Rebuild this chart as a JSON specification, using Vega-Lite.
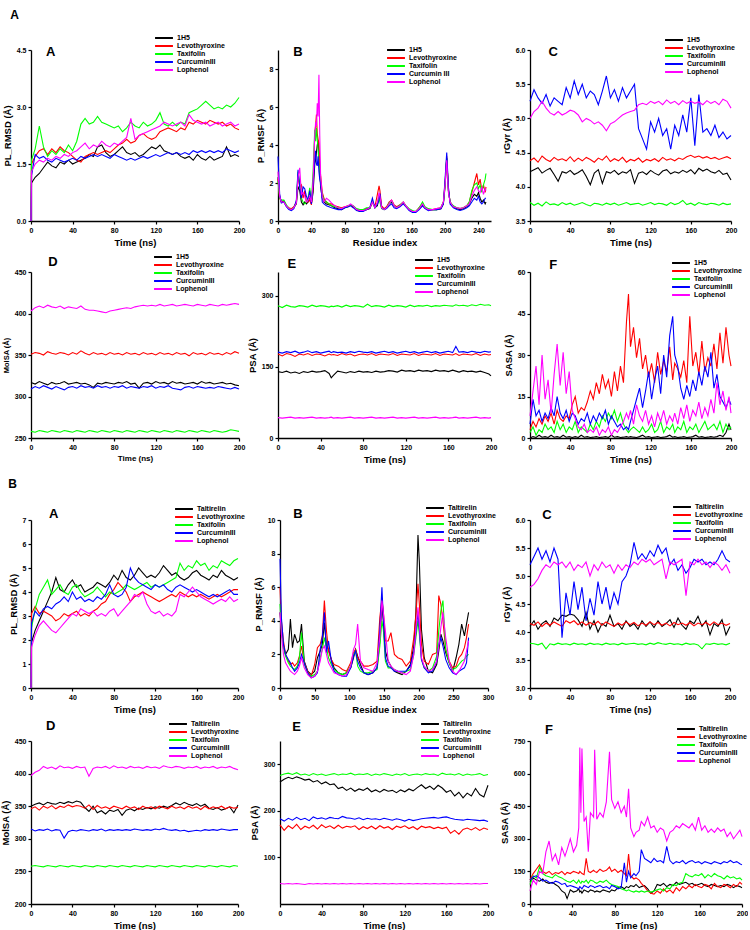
{
"$schema":"https://vega.github.io/schema/vega-lite/v6.json",
"background":"white",
"padding":{"left":0,"top":9,"right":0,"bottom":0},
"config":{
 "view":{"stroke":null},
 "font":"Liberation Sans",
 "axis":{"grid":false,"domainColor":"#000","domainWidth":1.3,"tickColor":"#000","tickSize":3,"tickWidth":1.2,"tickCount":20,"labelFontSize":7,"labelFontWeight":"bold","labelColor":"#000","titleFontSize":9.5,"titleFontWeight":"bold","titleColor":"#000","labelPadding":2,"titlePadding":4,"labelFlush":false,"labelOverlap":false},
 "legend":{"symbolType":"stroke","symbolStrokeWidth":2,"symbolSize":320,"labelFontSize":7,"labelFontWeight":"bold","labelColor":"#000","clipHeight":8,"rowPadding":0,"labelOffset":3,"padding":0},
 "title":{"anchor":"start","fontSize":12,"fontWeight":"bold","color":"#000","offset":12,"dx":8},
 "text":{"align":"center","baseline":"middle"}
},
"datasets":{
"ta":[
{"x":0,"k":0,"l":0,"t":0,"c":0,"p":0},
{"x":0.5,"k":1.0,"l":1.5,"t":1.6,"c":1.2,"p":1.3},
{"x":4,"k":1.15,"l":1.7,"t":1.9,"c":1.75,"p":1.5},
{"x":8,"k":1.25,"l":1.85,"t":2.5,"c":1.65,"p":1.6},
{"x":12,"k":1.4,"l":1.9,"t":1.95,"c":1.7,"p":1.55},
{"x":16,"k":1.55,"l":1.75,"t":1.7,"c":1.6,"p":1.65},
{"x":20,"k":1.45,"l":1.9,"t":1.85,"c":1.55,"p":1.6},
{"x":24,"k":1.4,"l":1.8,"t":1.75,"c":1.65,"p":1.7},
{"x":28,"k":1.55,"l":1.95,"t":1.9,"c":1.6,"p":1.65},
{"x":32,"k":1.5,"l":1.85,"t":1.8,"c":1.55,"p":1.75},
{"x":36,"k":1.6,"l":1.8,"t":2.0,"c":1.6,"p":1.7},
{"x":40,"k":1.5,"l":1.7,"t":1.85,"c":1.65,"p":1.8},
{"x":44,"k":1.55,"l":1.6,"t":2.1,"c":1.6,"p":1.85},
{"x":48,"k":1.6,"l":1.55,"t":2.55,"c":1.7,"p":1.95},
{"x":52,"k":1.65,"l":1.7,"t":2.7,"c":1.65,"p":2.05},
{"x":56,"k":1.75,"l":1.75,"t":2.55,"c":1.7,"p":1.9},
{"x":60,"k":1.7,"l":1.8,"t":2.6,"c":1.75,"p":2.0},
{"x":64,"k":1.95,"l":1.75,"t":2.75,"c":1.7,"p":1.95},
{"x":68,"k":2.0,"l":1.8,"t":2.6,"c":1.75,"p":2.1},
{"x":72,"k":1.8,"l":1.85,"t":2.55,"c":1.7,"p":2.0},
{"x":76,"k":1.7,"l":1.8,"t":2.5,"c":1.65,"p":1.95},
{"x":80,"k":1.75,"l":1.9,"t":2.45,"c":1.75,"p":2.05},
{"x":84,"k":1.85,"l":2.0,"t":2.5,"c":1.7,"p":2.0},
{"x":88,"k":1.95,"l":2.05,"t":2.35,"c":1.65,"p":2.1},
{"x":92,"k":1.8,"l":2.15,"t":2.45,"c":1.6,"p":2.2},
{"x":96,"k":1.75,"l":2.05,"t":2.6,"c":1.65,"p":2.7},
{"x":100,"k":1.8,"l":2.1,"t":2.5,"c":1.6,"p":2.15},
{"x":104,"k":1.7,"l":2.25,"t":2.45,"c":1.65,"p":2.25},
{"x":108,"k":1.75,"l":2.3,"t":2.6,"c":1.7,"p":2.3},
{"x":112,"k":1.85,"l":2.2,"t":2.5,"c":1.65,"p":2.35},
{"x":116,"k":1.95,"l":2.15,"t":2.55,"c":1.7,"p":2.4},
{"x":120,"k":1.9,"l":2.2,"t":2.65,"c":1.75,"p":2.45},
{"x":124,"k":2.0,"l":2.35,"t":2.85,"c":1.7,"p":2.5},
{"x":128,"k":1.85,"l":2.4,"t":2.55,"c":1.75,"p":2.6},
{"x":132,"k":1.8,"l":2.45,"t":2.5,"c":1.8,"p":2.55},
{"x":136,"k":1.75,"l":2.4,"t":2.6,"c":1.75,"p":2.5},
{"x":140,"k":1.8,"l":2.35,"t":2.5,"c":1.8,"p":2.55},
{"x":144,"k":1.7,"l":2.45,"t":2.6,"c":1.75,"p":2.6},
{"x":148,"k":1.65,"l":2.4,"t":2.55,"c":1.8,"p":2.5},
{"x":152,"k":1.7,"l":2.6,"t":2.85,"c":1.75,"p":2.8},
{"x":156,"k":1.6,"l":2.55,"t":2.9,"c":1.85,"p":2.65},
{"x":160,"k":1.75,"l":2.65,"t":2.95,"c":1.8,"p":2.6},
{"x":164,"k":1.65,"l":2.6,"t":3.05,"c":1.85,"p":2.55},
{"x":168,"k":1.6,"l":2.55,"t":3.15,"c":1.8,"p":2.6},
{"x":172,"k":1.7,"l":2.65,"t":3.05,"c":1.85,"p":2.5},
{"x":176,"k":1.6,"l":2.6,"t":2.95,"c":1.8,"p":2.55},
{"x":180,"k":1.65,"l":2.55,"t":3.0,"c":1.85,"p":2.6},
{"x":184,"k":1.7,"l":2.6,"t":2.95,"c":1.8,"p":2.5},
{"x":188,"k":1.95,"l":2.5,"t":3.05,"c":1.9,"p":2.55},
{"x":192,"k":1.7,"l":2.55,"t":3.0,"c":1.85,"p":2.6},
{"x":196,"k":1.75,"l":2.45,"t":3.1,"c":1.8,"p":2.5},
{"x":200,"k":1.7,"l":2.4,"t":3.25,"c":1.85,"p":2.55}
],
"tb":[
{"x":0,"k":2.3,"l":2.2,"t":2.1,"c":3.4,"p":2.6},
{"x":2,"k":1.3,"l":1.2,"t":1.2,"c":1.4,"p":1.3},
{"x":4,"k":1.0,"l":1.0,"t":1.1,"c":0.95,"p":1.0},
{"x":7,"k":1.05,"l":1.0,"t":1.1,"c":1.0,"p":1.0},
{"x":10,"k":0.8,"l":0.8,"t":0.85,"c":0.75,"p":0.8},
{"x":13,"k":0.65,"l":0.7,"t":0.65,"c":0.6,"p":0.65},
{"x":16,"k":0.6,"l":0.65,"t":0.6,"c":0.55,"p":0.6},
{"x":19,"k":0.7,"l":0.75,"t":0.7,"c":0.65,"p":0.7},
{"x":22,"k":0.9,"l":1.0,"t":1.0,"c":1.1,"p":0.95},
{"x":24,"k":1.8,"l":2.4,"t":2.6,"c":2.7,"p":2.3},
{"x":26,"k":1.6,"l":1.8,"t":2.0,"c":1.8,"p":2.8},
{"x":28,"k":1.0,"l":1.9,"t":1.2,"c":1.2,"p":1.4},
{"x":30,"k":0.85,"l":1.2,"t":1.0,"c":1.8,"p":1.5},
{"x":32,"k":1.0,"l":1.6,"t":0.9,"c":1.7,"p":1.3},
{"x":34,"k":0.9,"l":1.0,"t":1.0,"c":1.3,"p":1.0},
{"x":36,"k":1.0,"l":1.0,"t":1.2,"c":1.1,"p":1.1},
{"x":38,"k":1.3,"l":1.1,"t":1.75,"c":1.6,"p":1.3},
{"x":40,"k":0.9,"l":0.85,"t":1.0,"c":0.9,"p":1.0},
{"x":42,"k":1.5,"l":1.8,"t":2.6,"c":1.9,"p":2.1},
{"x":44,"k":3.0,"l":4.6,"t":4.8,"c":3.3,"p":4.5},
{"x":45,"k":3.2,"l":5.0,"t":4.2,"c":3.7,"p":5.2},
{"x":46,"k":3.6,"l":5.6,"t":4.9,"c":3.0,"p":5.0},
{"x":47,"k":4.0,"l":4.6,"t":4.3,"c":2.9,"p":6.2},
{"x":48,"k":4.2,"l":4.3,"t":3.8,"c":3.4,"p":5.5},
{"x":49,"k":3.5,"l":4.1,"t":3.0,"c":2.6,"p":7.7},
{"x":50,"k":2.6,"l":3.0,"t":2.7,"c":2.2,"p":4.5},
{"x":51,"k":1.8,"l":2.4,"t":2.0,"c":2.0,"p":2.4},
{"x":53,"k":1.2,"l":1.5,"t":1.4,"c":1.0,"p":1.3},
{"x":55,"k":1.0,"l":1.2,"t":1.1,"c":0.9,"p":1.0},
{"x":58,"k":0.9,"l":1.0,"t":1.0,"c":0.8,"p":1.2},
{"x":61,"k":0.85,"l":0.9,"t":0.9,"c":0.75,"p":1.1},
{"x":64,"k":0.8,"l":0.9,"t":0.8,"c":0.7,"p":0.95},
{"x":68,"k":0.7,"l":0.8,"t":0.75,"c":0.65,"p":0.8},
{"x":72,"k":0.65,"l":0.75,"t":0.7,"c":0.6,"p":0.7},
{"x":76,"k":0.6,"l":0.7,"t":0.65,"c":0.6,"p":0.65},
{"x":80,"k":0.7,"l":0.75,"t":0.7,"c":0.7,"p":0.75},
{"x":84,"k":0.75,"l":0.8,"t":0.8,"c":0.75,"p":0.8},
{"x":87,"k":0.85,"l":0.85,"t":0.85,"c":0.8,"p":0.9},
{"x":90,"k":0.75,"l":0.75,"t":0.8,"c":0.7,"p":0.8},
{"x":94,"k":0.6,"l":0.6,"t":0.65,"c":0.55,"p":0.6},
{"x":98,"k":0.5,"l":0.55,"t":0.6,"c":0.5,"p":0.55},
{"x":102,"k":0.55,"l":0.55,"t":0.6,"c":0.5,"p":0.55},
{"x":106,"k":0.6,"l":0.65,"t":0.7,"c":0.6,"p":0.6},
{"x":110,"k":0.65,"l":0.7,"t":0.7,"c":0.7,"p":0.7},
{"x":113,"k":1.0,"l":1.0,"t":1.05,"c":1.2,"p":1.0},
{"x":116,"k":0.7,"l":0.75,"t":0.7,"c":0.7,"p":0.7},
{"x":119,"k":0.8,"l":1.4,"t":0.9,"c":0.9,"p":1.0},
{"x":121,"k":1.3,"l":1.85,"t":1.2,"c":1.1,"p":1.5},
{"x":122,"k":1.2,"l":1.6,"t":1.0,"c":1.45,"p":1.3},
{"x":124,"k":0.7,"l":0.8,"t":0.65,"c":0.7,"p":0.7},
{"x":127,"k":0.6,"l":0.65,"t":0.6,"c":0.6,"p":0.6},
{"x":130,"k":0.7,"l":0.75,"t":0.7,"c":0.65,"p":0.7},
{"x":133,"k":0.9,"l":1.0,"t":0.95,"c":0.8,"p":0.9},
{"x":136,"k":1.0,"l":1.1,"t":1.05,"c":0.9,"p":1.1},
{"x":139,"k":0.8,"l":0.85,"t":0.8,"c":0.7,"p":0.8},
{"x":142,"k":0.7,"l":0.75,"t":0.7,"c":0.65,"p":0.7},
{"x":146,"k":0.8,"l":0.85,"t":0.85,"c":0.75,"p":0.8},
{"x":150,"k":0.95,"l":1.0,"t":1.0,"c":0.9,"p":1.0},
{"x":153,"k":0.8,"l":0.8,"t":0.8,"c":0.75,"p":0.8},
{"x":157,"k":0.6,"l":0.6,"t":0.65,"c":0.55,"p":0.6},
{"x":161,"k":0.5,"l":0.5,"t":0.55,"c":0.45,"p":0.5},
{"x":165,"k":0.5,"l":0.5,"t":0.5,"c":0.45,"p":0.5},
{"x":169,"k":0.65,"l":0.7,"t":0.7,"c":0.6,"p":0.65},
{"x":173,"k":0.85,"l":0.9,"t":1.0,"c":0.8,"p":0.9},
{"x":176,"k":0.7,"l":0.7,"t":0.75,"c":0.65,"p":0.7},
{"x":180,"k":0.6,"l":0.6,"t":0.65,"c":0.55,"p":0.6},
{"x":185,"k":0.6,"l":0.6,"t":0.6,"c":0.6,"p":0.6},
{"x":190,"k":0.6,"l":0.65,"t":0.6,"c":0.6,"p":0.65},
{"x":195,"k":0.65,"l":0.7,"t":0.7,"c":0.65,"p":0.7},
{"x":198,"k":0.9,"l":1.0,"t":1.0,"c":0.9,"p":1.0},
{"x":200,"k":1.8,"l":2.0,"t":1.9,"c":2.2,"p":1.9},
{"x":202,"k":3.3,"l":3.4,"t":3.3,"c":3.6,"p":3.2},
{"x":204,"k":1.6,"l":1.7,"t":1.6,"c":1.8,"p":1.5},
{"x":206,"k":1.0,"l":1.0,"t":1.0,"c":0.9,"p":1.0},
{"x":210,"k":0.75,"l":0.75,"t":0.8,"c":0.7,"p":0.75},
{"x":214,"k":0.65,"l":0.7,"t":0.7,"c":0.6,"p":0.7},
{"x":218,"k":0.6,"l":0.65,"t":0.65,"c":0.55,"p":0.65},
{"x":222,"k":0.65,"l":0.7,"t":0.7,"c":0.6,"p":0.7},
{"x":226,"k":0.75,"l":0.8,"t":0.8,"c":0.7,"p":0.8},
{"x":229,"k":0.9,"l":1.0,"t":1.0,"c":0.8,"p":0.9},
{"x":232,"k":1.2,"l":1.5,"t":1.6,"c":1.0,"p":1.3},
{"x":235,"k":1.4,"l":2.0,"t":1.9,"c":1.2,"p":1.6},
{"x":238,"k":1.3,"l":2.5,"t":2.0,"c":1.1,"p":1.8},
{"x":240,"k":1.5,"l":1.9,"t":1.7,"c":1.3,"p":1.6},
{"x":242,"k":1.2,"l":2.2,"t":1.9,"c":1.0,"p":1.5},
{"x":244,"k":1.0,"l":1.6,"t":1.5,"c":0.9,"p":1.8},
{"x":246,"k":1.1,"l":1.9,"t":1.9,"c":1.0,"p":1.4},
{"x":248,"k":0.9,"l":1.5,"t":2.2,"c":1.2,"p":1.7},
{"x":249,"k":1.0,"l":1.8,"t":2.5,"c":1.2,"p":1.6}
],
"tc":[
{"x":0,"k":4.22,"l":4.38,"t":3.77,"c":5.25,"p":5.0},
{"x":4,"k":4.25,"l":4.42,"t":3.73,"c":5.42,"p":5.1},
{"x":8,"k":4.28,"l":4.36,"t":3.76,"c":5.3,"p":5.15},
{"x":12,"k":4.2,"l":4.45,"t":3.72,"c":5.22,"p":5.25},
{"x":16,"k":4.24,"l":4.4,"t":3.78,"c":5.35,"p":5.15},
{"x":20,"k":4.27,"l":4.37,"t":3.74,"c":5.18,"p":5.08},
{"x":24,"k":4.18,"l":4.43,"t":3.75,"c":5.3,"p":5.05},
{"x":28,"k":4.08,"l":4.39,"t":3.73,"c":5.25,"p":5.1},
{"x":32,"k":4.22,"l":4.41,"t":3.77,"c":5.2,"p":5.05},
{"x":36,"k":4.2,"l":4.38,"t":3.74,"c":5.45,"p":5.08},
{"x":40,"k":4.24,"l":4.44,"t":3.76,"c":5.3,"p":5.12},
{"x":44,"k":4.18,"l":4.37,"t":3.73,"c":5.55,"p":5.1},
{"x":48,"k":4.21,"l":4.42,"t":3.75,"c":5.35,"p":5.05},
{"x":52,"k":4.25,"l":4.38,"t":3.77,"c":5.5,"p":4.95},
{"x":56,"k":4.15,"l":4.43,"t":3.74,"c":5.3,"p":5.0},
{"x":60,"k":4.03,"l":4.4,"t":3.72,"c":5.4,"p":4.97},
{"x":64,"k":4.2,"l":4.36,"t":3.76,"c":5.35,"p":4.92},
{"x":68,"k":4.25,"l":4.42,"t":3.75,"c":5.2,"p":4.95},
{"x":72,"k":4.05,"l":4.39,"t":3.73,"c":5.4,"p":4.9},
{"x":76,"k":4.22,"l":4.45,"t":3.76,"c":5.62,"p":4.82},
{"x":80,"k":4.2,"l":4.37,"t":3.74,"c":5.3,"p":4.92},
{"x":84,"k":4.24,"l":4.41,"t":3.76,"c":5.42,"p":4.95},
{"x":88,"k":4.18,"l":4.38,"t":3.73,"c":5.25,"p":5.0},
{"x":92,"k":4.22,"l":4.43,"t":3.75,"c":5.45,"p":5.05},
{"x":96,"k":4.2,"l":4.36,"t":3.77,"c":5.3,"p":5.08},
{"x":100,"k":4.25,"l":4.4,"t":3.74,"c":5.4,"p":5.1},
{"x":104,"k":4.05,"l":4.38,"t":3.75,"c":5.5,"p":5.12},
{"x":108,"k":4.2,"l":4.42,"t":3.76,"c":4.85,"p":5.2},
{"x":112,"k":4.22,"l":4.36,"t":3.73,"c":4.7,"p":5.22},
{"x":116,"k":4.18,"l":4.4,"t":3.75,"c":4.55,"p":5.2},
{"x":120,"k":4.24,"l":4.38,"t":3.77,"c":4.95,"p":5.25},
{"x":124,"k":4.2,"l":4.41,"t":3.74,"c":4.8,"p":5.22},
{"x":128,"k":4.17,"l":4.37,"t":3.76,"c":5.0,"p":5.25},
{"x":132,"k":4.23,"l":4.43,"t":3.75,"c":4.75,"p":5.2},
{"x":136,"k":4.25,"l":4.39,"t":3.73,"c":4.85,"p":5.27},
{"x":140,"k":4.19,"l":4.41,"t":3.77,"c":4.55,"p":5.22},
{"x":144,"k":4.22,"l":4.38,"t":3.74,"c":4.9,"p":5.25},
{"x":148,"k":4.2,"l":4.42,"t":3.76,"c":4.75,"p":5.2},
{"x":152,"k":4.24,"l":4.4,"t":3.8,"c":5.05,"p":5.26},
{"x":156,"k":4.21,"l":4.44,"t":3.74,"c":4.8,"p":5.22},
{"x":160,"k":4.25,"l":4.46,"t":3.76,"c":5.3,"p":5.25},
{"x":164,"k":4.19,"l":4.43,"t":3.73,"c":4.6,"p":5.22},
{"x":168,"k":4.27,"l":4.45,"t":3.77,"c":5.35,"p":5.24},
{"x":172,"k":4.23,"l":4.42,"t":3.75,"c":4.8,"p":5.2},
{"x":176,"k":4.26,"l":4.44,"t":3.74,"c":4.85,"p":5.26},
{"x":180,"k":4.22,"l":4.41,"t":3.76,"c":4.75,"p":5.22},
{"x":184,"k":4.2,"l":4.43,"t":3.75,"c":4.9,"p":5.25},
{"x":188,"k":4.24,"l":4.4,"t":3.73,"c":4.72,"p":5.2},
{"x":192,"k":4.18,"l":4.42,"t":3.76,"c":4.8,"p":5.28},
{"x":196,"k":4.2,"l":4.44,"t":3.74,"c":4.7,"p":5.25},
{"x":200,"k":4.1,"l":4.41,"t":3.75,"c":4.75,"p":5.15}
],
"td":[
{"x":0,"k":317,"l":351,"t":258,"c":309,"p":403},
{"x":4,"k":315,"l":353,"t":257,"c":312,"p":407},
{"x":8,"k":318,"l":352,"t":259,"c":310,"p":409},
{"x":12,"k":316,"l":350,"t":258,"c":313,"p":407},
{"x":16,"k":314,"l":354,"t":257,"c":311,"p":410},
{"x":20,"k":317,"l":352,"t":259,"c":309,"p":408},
{"x":24,"k":315,"l":351,"t":258,"c":312,"p":407},
{"x":28,"k":316,"l":353,"t":257,"c":310,"p":409},
{"x":32,"k":318,"l":352,"t":259,"c":308,"p":406},
{"x":36,"k":315,"l":350,"t":258,"c":311,"p":408},
{"x":40,"k":316,"l":353,"t":257,"c":312,"p":407},
{"x":44,"k":317,"l":351,"t":259,"c":310,"p":406},
{"x":48,"k":315,"l":355,"t":258,"c":313,"p":409},
{"x":52,"k":316,"l":352,"t":257,"c":311,"p":405},
{"x":56,"k":314,"l":350,"t":259,"c":312,"p":404},
{"x":60,"k":311,"l":353,"t":258,"c":310,"p":404},
{"x":64,"k":316,"l":351,"t":257,"c":313,"p":403},
{"x":68,"k":315,"l":352,"t":259,"c":311,"p":402},
{"x":72,"k":317,"l":350,"t":258,"c":312,"p":401},
{"x":76,"k":316,"l":353,"t":257,"c":310,"p":403},
{"x":80,"k":315,"l":351,"t":259,"c":312,"p":404},
{"x":84,"k":317,"l":352,"t":258,"c":311,"p":405},
{"x":88,"k":316,"l":350,"t":257,"c":313,"p":406},
{"x":92,"k":318,"l":353,"t":259,"c":310,"p":407},
{"x":96,"k":315,"l":351,"t":258,"c":312,"p":406},
{"x":100,"k":316,"l":352,"t":257,"c":311,"p":408},
{"x":104,"k":310,"l":350,"t":259,"c":310,"p":409},
{"x":108,"k":316,"l":353,"t":258,"c":312,"p":410},
{"x":112,"k":317,"l":351,"t":257,"c":311,"p":409},
{"x":116,"k":315,"l":352,"t":259,"c":313,"p":410},
{"x":120,"k":318,"l":350,"t":258,"c":310,"p":409},
{"x":124,"k":316,"l":353,"t":257,"c":312,"p":411},
{"x":128,"k":317,"l":351,"t":259,"c":311,"p":409},
{"x":132,"k":315,"l":352,"t":258,"c":313,"p":410},
{"x":136,"k":318,"l":350,"t":257,"c":310,"p":411},
{"x":140,"k":316,"l":353,"t":259,"c":309,"p":409},
{"x":144,"k":317,"l":351,"t":258,"c":308,"p":410},
{"x":148,"k":315,"l":352,"t":257,"c":311,"p":411},
{"x":152,"k":316,"l":349,"t":259,"c":312,"p":410},
{"x":156,"k":317,"l":353,"t":258,"c":310,"p":409},
{"x":160,"k":315,"l":351,"t":257,"c":312,"p":411},
{"x":164,"k":318,"l":352,"t":259,"c":311,"p":410},
{"x":168,"k":316,"l":350,"t":258,"c":310,"p":409},
{"x":172,"k":317,"l":353,"t":257,"c":311,"p":411},
{"x":176,"k":315,"l":351,"t":259,"c":310,"p":410},
{"x":180,"k":316,"l":352,"t":258,"c":312,"p":409},
{"x":184,"k":317,"l":350,"t":257,"c":311,"p":411},
{"x":188,"k":315,"l":353,"t":258,"c":310,"p":410},
{"x":192,"k":316,"l":351,"t":260,"c":309,"p":411},
{"x":196,"k":314,"l":354,"t":259,"c":311,"p":412},
{"x":200,"k":313,"l":352,"t":258,"c":309,"p":411}
],
"te":[
{"x":0,"k":140,"l":177,"t":279,"c":181,"p":43},
{"x":4,"k":138,"l":173,"t":275,"c":179,"p":42},
{"x":8,"k":141,"l":178,"t":280,"c":182,"p":43},
{"x":12,"k":137,"l":176,"t":277,"c":180,"p":44},
{"x":16,"k":139,"l":172,"t":276,"c":183,"p":42},
{"x":20,"k":136,"l":177,"t":279,"c":179,"p":43},
{"x":24,"k":140,"l":175,"t":278,"c":181,"p":42},
{"x":28,"k":138,"l":178,"t":276,"c":184,"p":43},
{"x":32,"k":141,"l":174,"t":280,"c":180,"p":44},
{"x":36,"k":139,"l":177,"t":277,"c":182,"p":42},
{"x":40,"k":140,"l":176,"t":279,"c":179,"p":43},
{"x":44,"k":142,"l":173,"t":278,"c":181,"p":42},
{"x":48,"k":136,"l":177,"t":276,"c":183,"p":43},
{"x":50,"k":127,"l":175,"t":278,"c":180,"p":44},
{"x":52,"k":132,"l":176,"t":277,"c":182,"p":42},
{"x":56,"k":141,"l":174,"t":279,"c":180,"p":43},
{"x":60,"k":139,"l":178,"t":276,"c":181,"p":42},
{"x":64,"k":137,"l":175,"t":280,"c":179,"p":43},
{"x":68,"k":140,"l":177,"t":277,"c":182,"p":44},
{"x":72,"k":138,"l":173,"t":279,"c":180,"p":42},
{"x":76,"k":141,"l":176,"t":278,"c":183,"p":43},
{"x":80,"k":139,"l":177,"t":276,"c":181,"p":42},
{"x":84,"k":140,"l":175,"t":282,"c":180,"p":43},
{"x":88,"k":138,"l":178,"t":277,"c":182,"p":44},
{"x":92,"k":141,"l":174,"t":279,"c":179,"p":42},
{"x":96,"k":139,"l":177,"t":278,"c":181,"p":43},
{"x":100,"k":140,"l":176,"t":276,"c":183,"p":42},
{"x":104,"k":142,"l":175,"t":280,"c":180,"p":43},
{"x":108,"k":141,"l":178,"t":277,"c":182,"p":44},
{"x":112,"k":139,"l":174,"t":279,"c":179,"p":42},
{"x":116,"k":143,"l":177,"t":278,"c":181,"p":43},
{"x":120,"k":141,"l":176,"t":276,"c":183,"p":42},
{"x":124,"k":142,"l":175,"t":280,"c":180,"p":43},
{"x":128,"k":140,"l":178,"t":277,"c":182,"p":44},
{"x":132,"k":143,"l":174,"t":279,"c":179,"p":42},
{"x":136,"k":141,"l":177,"t":278,"c":181,"p":43},
{"x":140,"k":142,"l":176,"t":280,"c":183,"p":42},
{"x":144,"k":140,"l":175,"t":277,"c":180,"p":43},
{"x":148,"k":143,"l":178,"t":279,"c":182,"p":44},
{"x":152,"k":141,"l":174,"t":278,"c":179,"p":42},
{"x":156,"k":142,"l":177,"t":280,"c":181,"p":43},
{"x":160,"k":140,"l":176,"t":279,"c":183,"p":42},
{"x":164,"k":143,"l":175,"t":278,"c":180,"p":43},
{"x":167,"k":141,"l":178,"t":281,"c":193,"p":44},
{"x":170,"k":139,"l":174,"t":279,"c":181,"p":42},
{"x":174,"k":142,"l":177,"t":280,"c":182,"p":43},
{"x":178,"k":140,"l":176,"t":278,"c":180,"p":42},
{"x":182,"k":141,"l":175,"t":281,"c":183,"p":43},
{"x":186,"k":139,"l":178,"t":279,"c":181,"p":44},
{"x":190,"k":141,"l":174,"t":282,"c":180,"p":42},
{"x":194,"k":138,"l":177,"t":280,"c":183,"p":43},
{"x":198,"k":135,"l":175,"t":281,"c":181,"p":42},
{"x":200,"k":131,"l":176,"t":279,"c":182,"p":43}
],
"tf":[
{"x":0,"k":0,"l":3,"t":2,"c":5,"p":8},
{"x":3,"k":0.5,"l":6,"t":4,"c":14,"p":17},
{"x":6,"k":0.2,"l":4,"t":1,"c":8,"p":26},
{"x":9,"k":1,"l":7,"t":3,"c":10,"p":12},
{"x":12,"k":0.3,"l":5,"t":2,"c":6,"p":30},
{"x":15,"k":0.5,"l":8,"t":5,"c":9,"p":14},
{"x":18,"k":0.2,"l":6,"t":3,"c":7,"p":21},
{"x":21,"k":1,"l":9,"t":4,"c":11,"p":9},
{"x":24,"k":0.3,"l":5,"t":2,"c":8,"p":23},
{"x":27,"k":0.5,"l":10,"t":6,"c":15,"p":34},
{"x":30,"k":0.2,"l":7,"t":3,"c":9,"p":19},
{"x":33,"k":1,"l":6,"t":5,"c":7,"p":31},
{"x":36,"k":0.3,"l":8,"t":2,"c":10,"p":16},
{"x":39,"k":0.5,"l":7,"t":4,"c":6,"p":24},
{"x":42,"k":0.2,"l":12,"t":3,"c":9,"p":10},
{"x":45,"k":0.5,"l":15,"t":6,"c":8,"p":7},
{"x":48,"k":0.2,"l":9,"t":2,"c":5,"p":4},
{"x":51,"k":1,"l":11,"t":4,"c":7,"p":3},
{"x":54,"k":0.3,"l":10,"t":3,"c":6,"p":5},
{"x":57,"k":0.5,"l":13,"t":2,"c":9,"p":2},
{"x":60,"k":0.2,"l":17,"t":5,"c":5,"p":3},
{"x":63,"k":0.3,"l":14,"t":3,"c":8,"p":2},
{"x":66,"k":0.5,"l":20,"t":6,"c":6,"p":4},
{"x":69,"k":0.2,"l":16,"t":4,"c":9,"p":1},
{"x":72,"k":0.3,"l":23,"t":8,"c":7,"p":3},
{"x":75,"k":0.5,"l":18,"t":6,"c":10,"p":2},
{"x":78,"k":0.2,"l":21,"t":9,"c":5,"p":4},
{"x":81,"k":1,"l":15,"t":7,"c":8,"p":1},
{"x":84,"k":0.3,"l":24,"t":10,"c":6,"p":3},
{"x":87,"k":0.5,"l":17,"t":6,"c":4,"p":2},
{"x":90,"k":0.2,"l":26,"t":9,"c":5,"p":4},
{"x":93,"k":0.3,"l":20,"t":5,"c":3,"p":6},
{"x":96,"k":0.5,"l":42,"t":3,"c":4,"p":9},
{"x":98,"k":0.3,"l":52,"t":2,"c":3,"p":7},
{"x":100,"k":0.5,"l":33,"t":3,"c":6,"p":10},
{"x":103,"k":0.3,"l":40,"t":4,"c":10,"p":5},
{"x":106,"k":0.2,"l":29,"t":3,"c":14,"p":12},
{"x":109,"k":0.5,"l":36,"t":2,"c":18,"p":8},
{"x":112,"k":1,"l":25,"t":4,"c":11,"p":6},
{"x":115,"k":0.3,"l":30,"t":2,"c":17,"p":10},
{"x":118,"k":0.5,"l":22,"t":3,"c":24,"p":5},
{"x":121,"k":0.2,"l":27,"t":5,"c":14,"p":8},
{"x":124,"k":0.3,"l":20,"t":2,"c":21,"p":4},
{"x":127,"k":0.5,"l":31,"t":3,"c":26,"p":9},
{"x":130,"k":0.2,"l":23,"t":6,"c":16,"p":6},
{"x":133,"k":0.3,"l":28,"t":2,"c":30,"p":10},
{"x":136,"k":0.5,"l":24,"t":4,"c":22,"p":5},
{"x":139,"k":1,"l":33,"t":3,"c":37,"p":8},
{"x":142,"k":0.3,"l":21,"t":5,"c":44,"p":6},
{"x":144,"k":0.5,"l":27,"t":2,"c":30,"p":9},
{"x":147,"k":0.2,"l":25,"t":4,"c":26,"p":5},
{"x":150,"k":0.3,"l":22,"t":3,"c":18,"p":11},
{"x":153,"k":0.5,"l":28,"t":6,"c":14,"p":7},
{"x":156,"k":0.2,"l":20,"t":2,"c":19,"p":12},
{"x":159,"k":0.3,"l":44,"t":4,"c":15,"p":6},
{"x":162,"k":0.5,"l":26,"t":3,"c":21,"p":10},
{"x":165,"k":1,"l":31,"t":5,"c":17,"p":8},
{"x":168,"k":0.3,"l":23,"t":2,"c":24,"p":13},
{"x":171,"k":0.5,"l":35,"t":4,"c":19,"p":7},
{"x":174,"k":0.2,"l":24,"t":6,"c":26,"p":11},
{"x":177,"k":0.3,"l":29,"t":3,"c":22,"p":8},
{"x":180,"k":0.5,"l":26,"t":4,"c":31,"p":14},
{"x":183,"k":0.3,"l":34,"t":5,"c":18,"p":9},
{"x":186,"k":0.5,"l":25,"t":3,"c":23,"p":20},
{"x":189,"k":1,"l":38,"t":6,"c":15,"p":12},
{"x":192,"k":0.5,"l":27,"t":2,"c":13,"p":17},
{"x":195,"k":2,"l":40,"t":5,"c":11,"p":10},
{"x":198,"k":5,"l":30,"t":3,"c":14,"p":15},
{"x":200,"k":3,"l":26,"t":4,"c":12,"p":9}
],
"ba":[
{"x":0,"k":0,"l":0,"t":0,"c":0,"p":0},
{"x":0.5,"k":1.9,"l":3.1,"t":2.5,"c":2.7,"p":1.7},
{"x":4,"k":2.4,"l":3.4,"t":3.3,"c":3.2,"p":2.2},
{"x":8,"k":2.8,"l":3.1,"t":3.9,"c":3.0,"p":2.6},
{"x":12,"k":3.2,"l":3.2,"t":4.2,"c":3.3,"p":2.8},
{"x":16,"k":3.6,"l":3.1,"t":4.5,"c":3.4,"p":2.6},
{"x":20,"k":4.0,"l":3.0,"t":3.9,"c":3.3,"p":2.4},
{"x":24,"k":4.6,"l":2.8,"t":4.1,"c":3.5,"p":2.3},
{"x":28,"k":4.1,"l":2.9,"t":4.3,"c":3.6,"p":2.5},
{"x":32,"k":4.0,"l":3.1,"t":4.0,"c":3.8,"p":2.7},
{"x":36,"k":4.3,"l":3.0,"t":3.9,"c":3.6,"p":2.9},
{"x":40,"k":4.5,"l":3.1,"t":4.2,"c":4.0,"p":3.1},
{"x":44,"k":4.2,"l":3.2,"t":4.3,"c":3.7,"p":3.0},
{"x":48,"k":4.3,"l":3.0,"t":4.0,"c":3.8,"p":3.3},
{"x":52,"k":4.0,"l":3.1,"t":3.8,"c":3.6,"p":3.2},
{"x":56,"k":4.1,"l":3.0,"t":3.9,"c":3.7,"p":3.1},
{"x":60,"k":4.2,"l":3.2,"t":4.0,"c":3.6,"p":3.2},
{"x":64,"k":4.4,"l":3.3,"t":4.2,"c":3.8,"p":3.0},
{"x":68,"k":4.3,"l":3.5,"t":4.0,"c":3.7,"p":3.1},
{"x":72,"k":4.2,"l":3.6,"t":3.8,"c":3.9,"p":3.0},
{"x":76,"k":4.4,"l":3.9,"t":4.0,"c":4.3,"p":3.2},
{"x":80,"k":4.7,"l":4.1,"t":3.9,"c":3.9,"p":3.3},
{"x":84,"k":4.5,"l":4.4,"t":4.0,"c":3.8,"p":3.0},
{"x":88,"k":4.9,"l":4.2,"t":4.1,"c":3.9,"p":3.2},
{"x":92,"k":4.6,"l":4.0,"t":4.3,"c":4.2,"p":3.4},
{"x":96,"k":4.5,"l":3.6,"t":4.2,"c":5.0,"p":3.6},
{"x":100,"k":4.7,"l":3.8,"t":4.1,"c":4.6,"p":3.9},
{"x":104,"k":5.0,"l":3.9,"t":4.2,"c":4.4,"p":3.8},
{"x":108,"k":4.8,"l":4.0,"t":4.3,"c":4.3,"p":4.0},
{"x":112,"k":4.6,"l":3.9,"t":4.4,"c":4.2,"p":3.5},
{"x":116,"k":4.7,"l":3.8,"t":4.2,"c":4.1,"p":3.2},
{"x":120,"k":4.6,"l":3.7,"t":4.3,"c":4.3,"p":3.1},
{"x":124,"k":4.8,"l":3.6,"t":4.2,"c":4.2,"p":3.2},
{"x":128,"k":5.1,"l":3.7,"t":4.3,"c":4.3,"p":3.0},
{"x":132,"k":4.9,"l":3.8,"t":4.4,"c":4.1,"p":3.1},
{"x":136,"k":4.7,"l":3.9,"t":4.5,"c":4.0,"p":3.0},
{"x":140,"k":4.8,"l":3.8,"t":4.6,"c":4.2,"p":3.2},
{"x":144,"k":4.6,"l":4.0,"t":5.2,"c":4.3,"p":3.9},
{"x":148,"k":4.5,"l":3.9,"t":4.9,"c":4.2,"p":3.8},
{"x":152,"k":4.6,"l":3.8,"t":5.1,"c":4.1,"p":4.0},
{"x":156,"k":4.8,"l":3.9,"t":5.0,"c":4.0,"p":4.2},
{"x":160,"k":4.9,"l":3.8,"t":5.3,"c":4.1,"p":4.0},
{"x":164,"k":4.7,"l":3.9,"t":5.1,"c":4.0,"p":3.8},
{"x":168,"k":4.6,"l":3.8,"t":5.2,"c":3.9,"p":3.7},
{"x":172,"k":4.5,"l":3.7,"t":4.9,"c":3.8,"p":3.6},
{"x":176,"k":4.7,"l":3.8,"t":5.1,"c":3.9,"p":3.5},
{"x":180,"k":4.6,"l":3.9,"t":5.0,"c":3.8,"p":3.6},
{"x":184,"k":4.9,"l":3.8,"t":5.3,"c":3.9,"p":3.7},
{"x":188,"k":4.7,"l":3.9,"t":5.2,"c":4.0,"p":3.6},
{"x":192,"k":4.6,"l":4.0,"t":5.1,"c":4.1,"p":3.8},
{"x":196,"k":4.5,"l":4.1,"t":5.3,"c":3.9,"p":3.6},
{"x":200,"k":4.6,"l":4.1,"t":5.4,"c":3.9,"p":3.7}
],
"bb":[
{"x":0,"k":4.5,"l":6.0,"t":5.0,"c":7.7,"p":4.5},
{"x":2,"k":3.5,"l":4.0,"t":3.5,"c":4.2,"p":3.2},
{"x":5,"k":2.5,"l":2.8,"t":2.4,"c":2.6,"p":2.0},
{"x":8,"k":2.0,"l":2.0,"t":1.9,"c":2.0,"p":1.5},
{"x":12,"k":2.3,"l":1.6,"t":1.5,"c":1.7,"p":1.2},
{"x":15,"k":4.1,"l":1.4,"t":1.3,"c":1.5,"p":1.0},
{"x":18,"k":2.4,"l":1.5,"t":1.2,"c":1.2,"p":0.9},
{"x":21,"k":3.2,"l":1.3,"t":1.1,"c":1.0,"p":0.8},
{"x":25,"k":2.7,"l":1.5,"t":1.3,"c":1.2,"p":1.0},
{"x":28,"k":2.8,"l":1.9,"t":1.8,"c":1.5,"p":1.3},
{"x":31,"k":3.8,"l":2.5,"t":3.3,"c":2.0,"p":1.8},
{"x":35,"k":1.6,"l":1.5,"t":1.4,"c":1.5,"p":1.2},
{"x":40,"k":1.0,"l":1.0,"t":0.9,"c":0.9,"p":0.8},
{"x":45,"k":0.8,"l":0.7,"t":0.7,"c":0.6,"p":0.6},
{"x":50,"k":1.0,"l":1.4,"t":0.8,"c":0.7,"p":0.7},
{"x":54,"k":1.8,"l":2.4,"t":1.0,"c":0.9,"p":1.0},
{"x":58,"k":2.2,"l":2.6,"t":1.8,"c":2.3,"p":1.6},
{"x":61,"k":2.6,"l":3.1,"t":2.3,"c":3.0,"p":2.3},
{"x":64,"k":3.9,"l":5.2,"t":3.0,"c":4.5,"p":2.5},
{"x":67,"k":2.5,"l":3.4,"t":2.4,"c":2.1,"p":2.0},
{"x":70,"k":2.3,"l":2.2,"t":1.8,"c":2.8,"p":1.5},
{"x":74,"k":1.7,"l":1.7,"t":1.4,"c":1.6,"p":1.2},
{"x":78,"k":1.2,"l":1.4,"t":1.1,"c":1.0,"p":0.9},
{"x":84,"k":0.9,"l":1.3,"t":0.9,"c":0.8,"p":0.8},
{"x":90,"k":0.8,"l":1.1,"t":0.8,"c":0.7,"p":0.7},
{"x":96,"k":0.9,"l":1.0,"t":0.9,"c":0.7,"p":0.8},
{"x":102,"k":1.2,"l":1.5,"t":1.3,"c":1.2,"p":1.3},
{"x":106,"k":1.8,"l":2.1,"t":2.0,"c":1.9,"p":2.3},
{"x":109,"k":2.3,"l":2.3,"t":2.2,"c":2.2,"p":2.6},
{"x":112,"k":1.9,"l":1.8,"t":1.3,"c":1.6,"p":3.8},
{"x":116,"k":1.4,"l":1.6,"t":1.0,"c":1.2,"p":1.6},
{"x":121,"k":0.9,"l":1.3,"t":0.9,"c":0.9,"p":1.2},
{"x":127,"k":0.8,"l":1.3,"t":0.9,"c":0.8,"p":1.1},
{"x":134,"k":0.9,"l":1.4,"t":1.0,"c":0.9,"p":1.0},
{"x":140,"k":1.2,"l":1.6,"t":1.1,"c":1.2,"p":1.5},
{"x":144,"k":2.8,"l":4.2,"t":2.5,"c":3.5,"p":3.0},
{"x":147,"k":5.0,"l":5.3,"t":4.0,"c":6.0,"p":5.2},
{"x":149,"k":4.0,"l":4.6,"t":3.5,"c":4.2,"p":4.5},
{"x":152,"k":2.2,"l":2.8,"t":1.6,"c":1.8,"p":3.4},
{"x":156,"k":1.6,"l":2.8,"t":1.2,"c":1.3,"p":1.6},
{"x":160,"k":1.3,"l":3.3,"t":1.2,"c":1.2,"p":1.3},
{"x":165,"k":1.0,"l":2.0,"t":1.1,"c":1.0,"p":1.1},
{"x":170,"k":0.9,"l":1.8,"t":1.0,"c":1.0,"p":1.0},
{"x":176,"k":0.8,"l":1.7,"t":0.9,"c":1.0,"p":0.9},
{"x":182,"k":1.0,"l":1.3,"t":1.0,"c":1.0,"p":0.8},
{"x":188,"k":1.4,"l":1.6,"t":1.1,"c":1.3,"p":1.0},
{"x":193,"k":2.5,"l":3.0,"t":2.0,"c":2.2,"p":2.0},
{"x":196,"k":4.5,"l":4.3,"t":3.0,"c":3.3,"p":3.5},
{"x":199,"k":9.1,"l":6.2,"t":4.0,"c":4.5,"p":4.8},
{"x":201,"k":7.5,"l":5.0,"t":3.2,"c":3.5,"p":3.8},
{"x":204,"k":3.5,"l":2.6,"t":1.7,"c":1.7,"p":1.8},
{"x":208,"k":1.8,"l":1.6,"t":1.2,"c":1.2,"p":1.3},
{"x":214,"k":1.0,"l":1.4,"t":1.0,"c":0.9,"p":1.0},
{"x":220,"k":0.9,"l":2.0,"t":1.2,"c":1.0,"p":1.1},
{"x":226,"k":1.4,"l":2.1,"t":1.9,"c":1.6,"p":1.6},
{"x":229,"k":2.2,"l":5.5,"t":3.4,"c":2.6,"p":2.5},
{"x":232,"k":3.2,"l":5.0,"t":4.6,"c":3.0,"p":3.6},
{"x":235,"k":2.8,"l":4.0,"t":5.2,"c":2.5,"p":4.5},
{"x":239,"k":2.1,"l":2.3,"t":2.3,"c":1.7,"p":3.0},
{"x":244,"k":1.5,"l":1.6,"t":1.5,"c":1.2,"p":1.6},
{"x":249,"k":1.0,"l":1.2,"t":1.1,"c":0.9,"p":1.0},
{"x":254,"k":1.8,"l":1.3,"t":1.2,"c":0.8,"p":0.8},
{"x":258,"k":2.6,"l":1.8,"t":1.4,"c":1.0,"p":1.0},
{"x":262,"k":3.8,"l":2.0,"t":1.6,"c":1.1,"p":1.3},
{"x":266,"k":3.1,"l":2.4,"t":1.7,"c":1.2,"p":1.6},
{"x":269,"k":3.8,"l":3.0,"t":1.9,"c":1.5,"p":2.2},
{"x":272,"k":4.5,"l":3.8,"t":2.0,"c":3.0,"p":2.8}
],
"bc":[
{"x":0,"k":4.1,"l":4.15,"t":3.8,"c":5.2,"p":4.8},
{"x":4,"k":4.2,"l":4.12,"t":3.79,"c":5.35,"p":4.85},
{"x":8,"k":4.05,"l":4.18,"t":3.77,"c":5.5,"p":4.95},
{"x":12,"k":4.15,"l":4.1,"t":3.8,"c":5.3,"p":5.1},
{"x":16,"k":4.2,"l":4.16,"t":3.7,"c":5.45,"p":5.2},
{"x":20,"k":4.1,"l":4.12,"t":3.79,"c":5.25,"p":5.15},
{"x":24,"k":4.25,"l":4.18,"t":3.77,"c":5.5,"p":5.25},
{"x":28,"k":4.2,"l":4.14,"t":3.8,"c":5.3,"p":5.2},
{"x":32,"k":4.3,"l":4.1,"t":3.78,"c":3.9,"p":5.25},
{"x":36,"k":4.28,"l":4.2,"t":3.79,"c":4.7,"p":5.15},
{"x":40,"k":4.32,"l":4.16,"t":3.77,"c":4.3,"p":5.25},
{"x":44,"k":4.3,"l":4.2,"t":3.8,"c":4.9,"p":5.1},
{"x":48,"k":4.22,"l":4.13,"t":3.78,"c":4.4,"p":5.2},
{"x":52,"k":4.1,"l":4.18,"t":3.79,"c":4.8,"p":5.15},
{"x":56,"k":4.35,"l":4.12,"t":3.77,"c":4.2,"p":5.25},
{"x":60,"k":4.05,"l":4.17,"t":3.8,"c":4.6,"p":5.0},
{"x":64,"k":4.2,"l":4.13,"t":3.78,"c":4.3,"p":5.2},
{"x":68,"k":4.0,"l":4.19,"t":3.79,"c":4.9,"p":5.1},
{"x":72,"k":4.15,"l":4.12,"t":3.77,"c":4.5,"p":5.25},
{"x":76,"k":4.1,"l":4.18,"t":3.8,"c":4.8,"p":5.15},
{"x":80,"k":4.3,"l":4.14,"t":3.78,"c":4.4,"p":5.2},
{"x":84,"k":4.1,"l":4.1,"t":3.79,"c":4.7,"p":5.05},
{"x":88,"k":4.15,"l":4.16,"t":3.77,"c":4.5,"p":5.2},
{"x":92,"k":4.05,"l":4.12,"t":3.8,"c":4.9,"p":5.1},
{"x":96,"k":4.2,"l":4.18,"t":3.78,"c":5.0,"p":5.2},
{"x":100,"k":4.1,"l":4.13,"t":3.79,"c":5.2,"p":5.15},
{"x":104,"k":4.15,"l":4.17,"t":3.8,"c":5.6,"p":5.25},
{"x":108,"k":4.05,"l":4.11,"t":3.78,"c":5.3,"p":5.2},
{"x":112,"k":4.2,"l":4.16,"t":3.79,"c":5.4,"p":5.3},
{"x":116,"k":4.1,"l":4.12,"t":3.77,"c":5.3,"p":5.25},
{"x":120,"k":4.18,"l":4.18,"t":3.8,"c":5.45,"p":5.3},
{"x":124,"k":4.08,"l":4.13,"t":3.78,"c":5.35,"p":5.2},
{"x":128,"k":4.2,"l":4.17,"t":3.81,"c":5.55,"p":5.25},
{"x":132,"k":4.1,"l":4.12,"t":3.79,"c":5.4,"p":5.3},
{"x":136,"k":4.15,"l":4.16,"t":3.78,"c":5.5,"p":4.95},
{"x":140,"k":4.22,"l":4.11,"t":3.8,"c":5.2,"p":5.25},
{"x":144,"k":4.08,"l":4.17,"t":3.78,"c":5.3,"p":5.2},
{"x":148,"k":4.25,"l":4.13,"t":3.79,"c":5.1,"p":5.25},
{"x":152,"k":4.12,"l":4.16,"t":3.77,"c":5.2,"p":5.3},
{"x":156,"k":4.05,"l":4.12,"t":3.8,"c":5.05,"p":4.65},
{"x":160,"k":4.2,"l":4.17,"t":3.78,"c":5.15,"p":5.25},
{"x":164,"k":4.15,"l":4.11,"t":3.79,"c":5.3,"p":5.2},
{"x":168,"k":4.28,"l":4.16,"t":3.77,"c":5.25,"p":5.3},
{"x":172,"k":4.1,"l":4.13,"t":3.7,"c":5.3,"p":5.2},
{"x":176,"k":4.2,"l":4.17,"t":3.79,"c":5.2,"p":5.25},
{"x":180,"k":3.95,"l":4.12,"t":3.78,"c":5.25,"p":5.15},
{"x":184,"k":4.15,"l":4.18,"t":3.8,"c":5.2,"p":5.25},
{"x":188,"k":4.1,"l":4.13,"t":3.78,"c":5.3,"p":5.2},
{"x":192,"k":4.22,"l":4.16,"t":3.79,"c":5.45,"p":5.1},
{"x":196,"k":3.95,"l":4.12,"t":3.77,"c":5.3,"p":5.2},
{"x":200,"k":4.1,"l":4.15,"t":3.8,"c":5.25,"p":5.05}
],
"bd":[
{"x":0,"k":350,"l":346,"t":258,"c":315,"p":397},
{"x":4,"k":353,"l":349,"t":259,"c":312,"p":402},
{"x":8,"k":355,"l":344,"t":258,"c":314,"p":405},
{"x":12,"k":352,"l":350,"t":257,"c":313,"p":411},
{"x":16,"k":356,"l":347,"t":259,"c":315,"p":408},
{"x":20,"k":354,"l":351,"t":258,"c":312,"p":410},
{"x":24,"k":353,"l":346,"t":257,"c":314,"p":407},
{"x":28,"k":356,"l":350,"t":259,"c":313,"p":412},
{"x":32,"k":354,"l":348,"t":258,"c":301,"p":409},
{"x":36,"k":357,"l":352,"t":257,"c":311,"p":410},
{"x":40,"k":355,"l":349,"t":259,"c":313,"p":408},
{"x":44,"k":358,"l":351,"t":258,"c":312,"p":411},
{"x":48,"k":356,"l":350,"t":257,"c":314,"p":409},
{"x":52,"k":348,"l":347,"t":259,"c":313,"p":410},
{"x":56,"k":342,"l":352,"t":258,"c":312,"p":396},
{"x":60,"k":350,"l":345,"t":257,"c":314,"p":408},
{"x":64,"k":340,"l":351,"t":259,"c":313,"p":410},
{"x":68,"k":343,"l":347,"t":258,"c":315,"p":409},
{"x":72,"k":338,"l":349,"t":257,"c":312,"p":411},
{"x":76,"k":344,"l":346,"t":259,"c":314,"p":408},
{"x":80,"k":342,"l":350,"t":258,"c":313,"p":412},
{"x":84,"k":345,"l":348,"t":257,"c":314,"p":409},
{"x":88,"k":336,"l":346,"t":259,"c":313,"p":410},
{"x":92,"k":344,"l":350,"t":258,"c":314,"p":408},
{"x":96,"k":346,"l":347,"t":257,"c":313,"p":411},
{"x":100,"k":343,"l":349,"t":259,"c":315,"p":409},
{"x":104,"k":347,"l":345,"t":258,"c":314,"p":410},
{"x":108,"k":345,"l":350,"t":257,"c":313,"p":408},
{"x":112,"k":348,"l":347,"t":259,"c":314,"p":411},
{"x":116,"k":346,"l":349,"t":258,"c":313,"p":409},
{"x":120,"k":349,"l":346,"t":257,"c":315,"p":410},
{"x":124,"k":347,"l":350,"t":259,"c":314,"p":408},
{"x":128,"k":350,"l":348,"t":258,"c":316,"p":412},
{"x":132,"k":348,"l":346,"t":257,"c":314,"p":410},
{"x":136,"k":351,"l":350,"t":259,"c":313,"p":409},
{"x":140,"k":355,"l":347,"t":258,"c":314,"p":411},
{"x":144,"k":352,"l":349,"t":257,"c":312,"p":410},
{"x":148,"k":356,"l":346,"t":259,"c":313,"p":408},
{"x":152,"k":353,"l":350,"t":258,"c":311,"p":410},
{"x":156,"k":351,"l":347,"t":257,"c":312,"p":409},
{"x":160,"k":354,"l":349,"t":259,"c":313,"p":411},
{"x":164,"k":350,"l":345,"t":258,"c":312,"p":408},
{"x":168,"k":353,"l":350,"t":257,"c":314,"p":410},
{"x":172,"k":347,"l":346,"t":259,"c":313,"p":409},
{"x":176,"k":345,"l":349,"t":258,"c":314,"p":411},
{"x":180,"k":348,"l":347,"t":257,"c":313,"p":408},
{"x":184,"k":344,"l":350,"t":259,"c":315,"p":410},
{"x":188,"k":346,"l":346,"t":258,"c":314,"p":409},
{"x":192,"k":349,"l":349,"t":257,"c":313,"p":411},
{"x":196,"k":340,"l":347,"t":259,"c":314,"p":408},
{"x":200,"k":352,"l":348,"t":258,"c":314,"p":406}
],
"be":[
{"x":0,"k":262,"l":170,"t":276,"c":183,"p":44},
{"x":4,"k":268,"l":158,"t":279,"c":178,"p":43},
{"x":8,"k":272,"l":168,"t":281,"c":184,"p":44},
{"x":12,"k":269,"l":162,"t":278,"c":180,"p":43},
{"x":16,"k":273,"l":171,"t":282,"c":186,"p":44},
{"x":20,"k":270,"l":160,"t":277,"c":181,"p":43},
{"x":24,"k":266,"l":167,"t":279,"c":184,"p":42},
{"x":28,"k":268,"l":163,"t":276,"c":179,"p":44},
{"x":32,"k":262,"l":169,"t":280,"c":187,"p":43},
{"x":36,"k":265,"l":161,"t":277,"c":183,"p":44},
{"x":40,"k":258,"l":170,"t":279,"c":185,"p":43},
{"x":44,"k":262,"l":164,"t":276,"c":182,"p":44},
{"x":48,"k":256,"l":168,"t":278,"c":186,"p":43},
{"x":52,"k":258,"l":162,"t":280,"c":184,"p":44},
{"x":56,"k":248,"l":169,"t":277,"c":183,"p":43},
{"x":60,"k":251,"l":163,"t":279,"c":188,"p":44},
{"x":64,"k":244,"l":167,"t":278,"c":185,"p":43},
{"x":68,"k":249,"l":165,"t":281,"c":184,"p":44},
{"x":72,"k":242,"l":168,"t":277,"c":182,"p":43},
{"x":76,"k":247,"l":160,"t":279,"c":185,"p":44},
{"x":80,"k":244,"l":166,"t":278,"c":181,"p":43},
{"x":84,"k":249,"l":162,"t":280,"c":184,"p":44},
{"x":88,"k":241,"l":167,"t":276,"c":182,"p":43},
{"x":92,"k":245,"l":161,"t":279,"c":183,"p":44},
{"x":96,"k":240,"l":168,"t":277,"c":181,"p":43},
{"x":100,"k":246,"l":163,"t":280,"c":184,"p":44},
{"x":104,"k":242,"l":166,"t":278,"c":182,"p":43},
{"x":108,"k":244,"l":160,"t":276,"c":180,"p":44},
{"x":112,"k":239,"l":167,"t":279,"c":183,"p":43},
{"x":116,"k":245,"l":164,"t":277,"c":181,"p":44},
{"x":120,"k":241,"l":168,"t":280,"c":178,"p":43},
{"x":124,"k":247,"l":162,"t":276,"c":182,"p":44},
{"x":128,"k":243,"l":166,"t":278,"c":179,"p":43},
{"x":132,"k":250,"l":160,"t":279,"c":181,"p":44},
{"x":136,"k":256,"l":167,"t":277,"c":183,"p":43},
{"x":140,"k":248,"l":164,"t":280,"c":184,"p":44},
{"x":144,"k":253,"l":166,"t":278,"c":185,"p":43},
{"x":148,"k":246,"l":162,"t":279,"c":186,"p":44},
{"x":152,"k":255,"l":165,"t":276,"c":184,"p":43},
{"x":156,"k":249,"l":162,"t":281,"c":186,"p":44},
{"x":160,"k":240,"l":165,"t":278,"c":187,"p":43},
{"x":164,"k":244,"l":152,"t":279,"c":184,"p":44},
{"x":168,"k":232,"l":158,"t":277,"c":182,"p":43},
{"x":172,"k":240,"l":150,"t":280,"c":181,"p":44},
{"x":176,"k":228,"l":160,"t":276,"c":180,"p":43},
{"x":180,"k":238,"l":163,"t":279,"c":182,"p":44},
{"x":184,"k":232,"l":159,"t":277,"c":181,"p":43},
{"x":188,"k":248,"l":164,"t":278,"c":180,"p":44},
{"x":192,"k":235,"l":158,"t":280,"c":179,"p":43},
{"x":196,"k":230,"l":163,"t":276,"c":180,"p":44},
{"x":200,"k":255,"l":160,"t":278,"c":177,"p":44}
],
"bf":[
{"x":0,"k":100,"l":110,"t":90,"c":110,"p":60},
{"x":3,"k":120,"l":140,"t":130,"c":125,"p":110},
{"x":6,"k":110,"l":160,"t":120,"c":130,"p":90},
{"x":9,"k":105,"l":180,"t":170,"c":120,"p":150},
{"x":12,"k":115,"l":150,"t":140,"c":105,"p":140},
{"x":15,"k":100,"l":140,"t":130,"c":110,"p":240},
{"x":18,"k":95,"l":150,"t":125,"c":100,"p":290},
{"x":21,"k":100,"l":135,"t":120,"c":95,"p":200},
{"x":24,"k":90,"l":145,"t":135,"c":105,"p":230},
{"x":27,"k":80,"l":140,"t":125,"c":100,"p":180},
{"x":30,"k":60,"l":150,"t":120,"c":90,"p":260},
{"x":33,"k":50,"l":135,"t":110,"c":95,"p":220},
{"x":35,"k":25,"l":145,"t":105,"c":80,"p":250},
{"x":38,"k":65,"l":140,"t":100,"c":85,"p":300},
{"x":41,"k":55,"l":150,"t":110,"c":80,"p":240},
{"x":44,"k":60,"l":145,"t":95,"c":75,"p":270},
{"x":46,"k":70,"l":140,"t":110,"c":70,"p":350},
{"x":47,"k":55,"l":150,"t":100,"c":80,"p":720},
{"x":48,"k":60,"l":145,"t":95,"c":75,"p":420},
{"x":49,"k":50,"l":140,"t":105,"c":70,"p":715},
{"x":51,"k":65,"l":135,"t":100,"c":85,"p":380},
{"x":53,"k":60,"l":210,"t":110,"c":80,"p":400},
{"x":55,"k":55,"l":150,"t":95,"c":75,"p":240},
{"x":57,"k":65,"l":145,"t":110,"c":85,"p":420},
{"x":60,"k":60,"l":155,"t":105,"c":80,"p":400},
{"x":61,"k":55,"l":150,"t":100,"c":75,"p":710},
{"x":63,"k":60,"l":145,"t":95,"c":80,"p":390},
{"x":66,"k":55,"l":160,"t":105,"c":85,"p":420},
{"x":69,"k":65,"l":150,"t":100,"c":75,"p":400},
{"x":72,"k":60,"l":155,"t":110,"c":80,"p":470},
{"x":75,"k":55,"l":170,"t":95,"c":70,"p":700},
{"x":77,"k":65,"l":150,"t":90,"c":85,"p":480},
{"x":80,"k":60,"l":160,"t":85,"c":80,"p":440},
{"x":83,"k":75,"l":145,"t":80,"c":70,"p":470},
{"x":86,"k":80,"l":155,"t":70,"c":75,"p":420},
{"x":89,"k":70,"l":140,"t":65,"c":190,"p":450},
{"x":91,"k":80,"l":130,"t":60,"c":100,"p":400},
{"x":93,"k":75,"l":230,"t":65,"c":150,"p":530},
{"x":95,"k":85,"l":130,"t":60,"c":120,"p":350},
{"x":98,"k":80,"l":115,"t":55,"c":140,"p":310},
{"x":100,"k":90,"l":120,"t":60,"c":130,"p":330},
{"x":103,"k":75,"l":110,"t":55,"c":150,"p":340},
{"x":105,"k":80,"l":95,"t":60,"c":250,"p":380},
{"x":108,"k":85,"l":80,"t":55,"c":210,"p":360},
{"x":111,"k":70,"l":60,"t":60,"c":200,"p":400},
{"x":114,"k":50,"l":50,"t":55,"c":190,"p":350},
{"x":117,"k":60,"l":45,"t":60,"c":210,"p":360},
{"x":120,"k":90,"l":60,"t":65,"c":195,"p":330},
{"x":123,"k":85,"l":50,"t":70,"c":200,"p":350},
{"x":126,"k":95,"l":70,"t":60,"c":190,"p":340},
{"x":129,"k":80,"l":55,"t":75,"c":265,"p":290},
{"x":132,"k":90,"l":65,"t":70,"c":200,"p":330},
{"x":135,"k":85,"l":50,"t":90,"c":185,"p":340},
{"x":138,"k":100,"l":75,"t":85,"c":195,"p":360},
{"x":141,"k":90,"l":60,"t":95,"c":190,"p":350},
{"x":144,"k":95,"l":80,"t":100,"c":200,"p":370},
{"x":147,"k":100,"l":70,"t":140,"c":185,"p":360},
{"x":150,"k":90,"l":85,"t":130,"c":195,"p":350},
{"x":153,"k":95,"l":75,"t":125,"c":200,"p":370},
{"x":156,"k":85,"l":90,"t":135,"c":190,"p":340},
{"x":159,"k":90,"l":80,"t":130,"c":195,"p":400},
{"x":162,"k":95,"l":75,"t":140,"c":185,"p":340},
{"x":165,"k":85,"l":90,"t":120,"c":195,"p":360},
{"x":168,"k":80,"l":85,"t":135,"c":190,"p":330},
{"x":171,"k":90,"l":70,"t":125,"c":185,"p":345},
{"x":174,"k":85,"l":95,"t":140,"c":195,"p":330},
{"x":177,"k":80,"l":80,"t":130,"c":190,"p":350},
{"x":180,"k":85,"l":75,"t":125,"c":185,"p":335},
{"x":183,"k":80,"l":90,"t":115,"c":195,"p":345},
{"x":186,"k":90,"l":85,"t":130,"c":190,"p":310},
{"x":189,"k":85,"l":75,"t":120,"c":200,"p":330},
{"x":192,"k":75,"l":90,"t":125,"c":190,"p":300},
{"x":195,"k":85,"l":80,"t":115,"c":195,"p":320},
{"x":198,"k":80,"l":100,"t":120,"c":185,"p":340},
{"x":200,"k":75,"l":90,"t":110,"c":180,"p":310}
]
},
"spacing":14,
"resolve":{"scale":{"color":"independent"},"legend":{"color":"independent"}},
"vconcat":[
{
"title":"A",
"columns":3,"bounds":"flush","spacing":{"row":51,"column":39},
"resolve":{"scale":{"color":"independent"},"legend":{"color":"independent"}},
"concat":[
{"width":208,"height":171,"layer":[
 {"data":{"name":"ta"},"transform":[{"fold":["k","l","t","c","p"],"as":["s","v"]}],"mark":{"type":"line","strokeWidth":1.1},
  "encoding":{
   "x":{"field":"x","type":"quantitative","scale":{"domain":[0,200],"nice":false},"axis":{"values":[0,40,80,120,160,200],"tickCount":20,"format":"d","title":"Time (ns)"}},
   "y":{"field":"v","type":"quantitative","scale":{"domain":[0,4.5],"nice":false,"zero":false},"axis":{"values":[0,1.5,3,4.5],"tickCount":20,"format":".1f","title":"PL_RMSD (Å)"}},
   "color":{"field":"s","type":"nominal","scale":{"domain":["k","l","t","c","p"],"range":["#000000","#ff0000","#00ff00","#0000ff","#ff00ff"]},
    "legend":{"title":null,"orient":"none","legendX":123,"legendY":-16,"labelExpr":"datum.label=='k'?'1H5':datum.label=='l'?'Levothyroxine':datum.label=='t'?'Taxifolin':datum.label=='c'?'CurcuminIII':'Lophenol'"}}}},
 {"data":{"values":[{}]},"mark":{"type":"text","fontSize":13,"fontWeight":"bold"},
  "encoding":{"x":{"datum":19,"type":"quantitative","scale":{"domain":[0,200],"nice":false}},"y":{"datum":4.45,"type":"quantitative","scale":{"domain":[0,4.5],"nice":false,"zero":false}},"text":{"value":"A"}}}
]},
{"width":213,"height":171,"layer":[
 {"data":{"name":"tb"},"transform":[{"fold":["k","l","t","c","p"],"as":["s","v"]}],"mark":{"type":"line","strokeWidth":1.1},
  "encoding":{
   "x":{"field":"x","type":"quantitative","scale":{"domain":[0,255],"nice":false},"axis":{"values":[0,40,80,120,160,200,240],"tickCount":20,"format":"d","title":"Residue index"}},
   "y":{"field":"v","type":"quantitative","scale":{"domain":[0,9],"nice":false,"zero":false},"axis":{"values":[0,2,4,6,8],"tickCount":20,"format":"d","title":"P_RMSF (Å)"}},
   "color":{"field":"s","type":"nominal","scale":{"domain":["k","l","t","c","p"],"range":["#000000","#ff0000","#00ff00","#0000ff","#ff00ff"]},
    "legend":{"title":null,"orient":"none","legendX":108,"legendY":-4,"labelExpr":"datum.label=='k'?'1H5':datum.label=='l'?'Levothyroxine':datum.label=='t'?'Taxifolin':datum.label=='c'?'Curcumin III':'Lophenol'"}}}},
 {"data":{"values":[{}]},"mark":{"type":"text","fontSize":13,"fontWeight":"bold"},
  "encoding":{"x":{"datum":24,"type":"quantitative","scale":{"domain":[0,255],"nice":false}},"y":{"datum":8.9,"type":"quantitative","scale":{"domain":[0,9],"nice":false,"zero":false}},"text":{"value":"B"}}}
]},
{"width":201,"height":171,"layer":[
 {"data":{"name":"tc"},"transform":[{"fold":["k","l","t","c","p"],"as":["s","v"]}],"mark":{"type":"line","strokeWidth":1.1},
  "encoding":{
   "x":{"field":"x","type":"quantitative","scale":{"domain":[0,200],"nice":false},"axis":{"values":[0,40,80,120,160,200],"tickCount":20,"format":"d","title":"Time (ns)"}},
   "y":{"field":"v","type":"quantitative","scale":{"domain":[3.5,6],"nice":false,"zero":false},"axis":{"values":[3.5,4,4.5,5,5.5,6],"tickCount":20,"format":".1f","title":"rGyr (Å)"}},
   "color":{"field":"s","type":"nominal","scale":{"domain":["k","l","t","c","p"],"range":["#000000","#ff0000","#00ff00","#0000ff","#ff00ff"]},
    "legend":{"title":null,"orient":"none","legendX":134,"legendY":-14,"labelExpr":"datum.label=='k'?'1H5':datum.label=='l'?'Levothyroxine':datum.label=='t'?'Taxifolin':datum.label=='c'?'CurcuminIII':'Lophenol'"}}}},
 {"data":{"values":[{}]},"mark":{"type":"text","fontSize":13,"fontWeight":"bold"},
  "encoding":{"x":{"datum":23,"type":"quantitative","scale":{"domain":[0,200],"nice":false}},"y":{"datum":5.97,"type":"quantitative","scale":{"domain":[3.5,6],"nice":false,"zero":false}},"text":{"value":"C"}}}
]},
{"width":208,"height":166,"layer":[
 {"data":{"name":"td"},"transform":[{"fold":["k","l","t","c","p"],"as":["s","v"]}],"mark":{"type":"line","strokeWidth":1.1},
  "encoding":{
   "x":{"field":"x","type":"quantitative","scale":{"domain":[0,200],"nice":false},"axis":{"values":[0,40,80,120,160,200],"tickCount":20,"format":"d","title":"Time (ns)","titleFontSize":8}},
   "y":{"field":"v","type":"quantitative","scale":{"domain":[250,450],"nice":false,"zero":false},"axis":{"values":[250,300,350,400,450],"tickCount":20,"format":"d","title":"MolSA (Å)","titleFontSize":7.5}},
   "color":{"field":"s","type":"nominal","scale":{"domain":["k","l","t","c","p"],"range":["#000000","#ff0000","#00ff00","#0000ff","#ff00ff"]},
    "legend":{"title":null,"orient":"none","legendX":122,"legendY":-19,"labelExpr":"datum.label=='k'?'1H5':datum.label=='l'?'Levothyroxine':datum.label=='t'?'Taxifolin':datum.label=='c'?'CurcuminIII':'Lophenol'"}}}},
 {"data":{"values":[{}]},"mark":{"type":"text","fontSize":13,"fontWeight":"bold"},
  "encoding":{"x":{"datum":21,"type":"quantitative","scale":{"domain":[0,200],"nice":false}},"y":{"datum":462,"type":"quantitative","scale":{"domain":[250,450],"nice":false,"zero":false}},"text":{"value":"D"}}}
]},
{"width":213,"height":166,"layer":[
 {"data":{"name":"te"},"transform":[{"fold":["k","l","t","c","p"],"as":["s","v"]}],"mark":{"type":"line","strokeWidth":1.1},
  "encoding":{
   "x":{"field":"x","type":"quantitative","scale":{"domain":[0,200],"nice":false},"axis":{"values":[0,40,80,120,160,200],"tickCount":20,"format":"d","title":"Time (ns)"}},
   "y":{"field":"v","type":"quantitative","scale":{"domain":[0,350],"nice":false,"zero":false},"axis":{"values":[0,150,300],"tickCount":20,"format":"d","title":"PSA (Å)"}},
   "color":{"field":"s","type":"nominal","scale":{"domain":["k","l","t","c","p"],"range":["#000000","#ff0000","#00ff00","#0000ff","#ff00ff"]},
    "legend":{"title":null,"orient":"none","legendX":136,"legendY":-16,"labelExpr":"datum.label=='k'?'1H5':datum.label=='l'?'Levothyroxine':datum.label=='t'?'Taxifolin':datum.label=='c'?'CurcuminIII':'Lophenol'"}}}},
 {"data":{"values":[{}]},"mark":{"type":"text","fontSize":13,"fontWeight":"bold"},
  "encoding":{"x":{"datum":13,"type":"quantitative","scale":{"domain":[0,200],"nice":false}},"y":{"datum":367,"type":"quantitative","scale":{"domain":[0,350],"nice":false,"zero":false}},"text":{"value":"E"}}}
]},
{"width":201,"height":166,"layer":[
 {"data":{"name":"tf"},"transform":[{"fold":["k","l","t","c","p"],"as":["s","v"]}],"mark":{"type":"line","strokeWidth":1.1},
  "encoding":{
   "x":{"field":"x","type":"quantitative","scale":{"domain":[0,200],"nice":false},"axis":{"values":[0,40,80,120,160,200],"tickCount":20,"format":"d","title":"Time (ns)"}},
   "y":{"field":"v","type":"quantitative","scale":{"domain":[0,60],"nice":false,"zero":false},"axis":{"values":[0,15,30,45,60],"tickCount":20,"format":"d","title":"SASA (Å)"}},
   "color":{"field":"s","type":"nominal","scale":{"domain":["k","l","t","c","p"],"range":["#000000","#ff0000","#00ff00","#0000ff","#ff00ff"]},
    "legend":{"title":null,"orient":"none","legendX":141,"legendY":-13,"labelExpr":"datum.label=='k'?'1H5':datum.label=='l'?'Levothyroxine':datum.label=='t'?'Taxifolin':datum.label=='c'?'CurcuminIII':'Lophenol'"}}}},
 {"data":{"values":[{}]},"mark":{"type":"text","fontSize":13,"fontWeight":"bold"},
  "encoding":{"x":{"datum":23,"type":"quantitative","scale":{"domain":[0,200],"nice":false}},"y":{"datum":62.5,"type":"quantitative","scale":{"domain":[0,60],"nice":false,"zero":false}},"text":{"value":"F"}}}
]}
]
},
{
"title":"B",
"columns":3,"bounds":"flush","spacing":{"row":53,"column":42},
"resolve":{"scale":{"color":"independent"},"legend":{"color":"independent"}},
"concat":[
{"width":207,"height":168,"layer":[
 {"data":{"name":"ba"},"transform":[{"fold":["k","l","t","c","p"],"as":["s","v"]}],"mark":{"type":"line","strokeWidth":1.1},
  "encoding":{
   "x":{"field":"x","type":"quantitative","scale":{"domain":[0,200],"nice":false},"axis":{"values":[0,40,80,120,160,200],"tickCount":20,"format":"d","title":"Time (ns)"}},
   "y":{"field":"v","type":"quantitative","scale":{"domain":[0,7],"nice":false,"zero":false},"axis":{"values":[0,1,2,3,4,5,6,7],"tickCount":20,"format":"d","title":"PL_RMSD (Å)"}},
   "color":{"field":"s","type":"nominal","scale":{"domain":["k","l","t","c","p"],"range":["#000000","#ff0000","#00ff00","#0000ff","#ff00ff"]},
    "legend":{"title":null,"orient":"none","legendX":143,"legendY":-15,"labelExpr":"datum.label=='k'?'Taltirelin':datum.label=='l'?'Levothyroxine':datum.label=='t'?'Taxifolin':datum.label=='c'?'CurcuminIII':'Lophenol'"}}}},
 {"data":{"values":[{}]},"mark":{"type":"text","fontSize":13,"fontWeight":"bold"},
  "encoding":{"x":{"datum":22,"type":"quantitative","scale":{"domain":[0,200],"nice":false}},"y":{"datum":7.25,"type":"quantitative","scale":{"domain":[0,7],"nice":false,"zero":false}},"text":{"value":"A"}}}
]},
{"width":208,"height":168,"layer":[
 {"data":{"name":"bb"},"transform":[{"fold":["k","l","t","c","p"],"as":["s","v"]}],"mark":{"type":"line","strokeWidth":1.1},
  "encoding":{
   "x":{"field":"x","type":"quantitative","scale":{"domain":[0,300],"nice":false},"axis":{"values":[0,50,100,150,200,250,300],"tickCount":20,"format":"d","title":"Residue index"}},
   "y":{"field":"v","type":"quantitative","scale":{"domain":[0,10],"nice":false,"zero":false},"axis":{"values":[0,2,4,6,8,10],"tickCount":20,"format":"d","title":"P_RMSF (Å)"}},
   "color":{"field":"s","type":"nominal","scale":{"domain":["k","l","t","c","p"],"range":["#000000","#ff0000","#00ff00","#0000ff","#ff00ff"]},
    "legend":{"title":null,"orient":"none","legendX":145,"legendY":-16,"labelExpr":"datum.label=='k'?'Taltirelin':datum.label=='l'?'Levothyroxine':datum.label=='t'?'Taxifolin':datum.label=='c'?'CurcuminIII':'Lophenol'"}}}},
 {"data":{"values":[{}]},"mark":{"type":"text","fontSize":13,"fontWeight":"bold"},
  "encoding":{"x":{"datum":26,"type":"quantitative","scale":{"domain":[0,300],"nice":false}},"y":{"datum":10.35,"type":"quantitative","scale":{"domain":[0,10],"nice":false,"zero":false}},"text":{"value":"B"}}}
]},
{"width":200,"height":168,"layer":[
 {"data":{"name":"bc"},"transform":[{"fold":["k","l","t","c","p"],"as":["s","v"]}],"mark":{"type":"line","strokeWidth":1.1},
  "encoding":{
   "x":{"field":"x","type":"quantitative","scale":{"domain":[0,200],"nice":false},"axis":{"values":[0,40,80,120,160,200],"tickCount":20,"format":"d","title":"Time (ns)"}},
   "y":{"field":"v","type":"quantitative","scale":{"domain":[3,6],"nice":false,"zero":false},"axis":{"values":[3,3.5,4,4.5,5,5.5,6],"tickCount":20,"format":".1f","title":"rGyr (Å)"}},
   "color":{"field":"s","type":"nominal","scale":{"domain":["k","l","t","c","p"],"range":["#000000","#ff0000","#00ff00","#0000ff","#ff00ff"]},
    "legend":{"title":null,"orient":"none","legendX":142,"legendY":-17,"labelExpr":"datum.label=='k'?'Taltirelin':datum.label=='l'?'Levothyroxine':datum.label=='t'?'Taxifolin':datum.label=='c'?'CurcuminIII':'Lophenol'"}}}},
 {"data":{"values":[{}]},"mark":{"type":"text","fontSize":13,"fontWeight":"bold"},
  "encoding":{"x":{"datum":17,"type":"quantitative","scale":{"domain":[0,200],"nice":false}},"y":{"datum":6.09,"type":"quantitative","scale":{"domain":[3,6],"nice":false,"zero":false}},"text":{"value":"C"}}}
]},
{"width":207,"height":163,"layer":[
 {"data":{"name":"bd"},"transform":[{"fold":["k","l","t","c","p"],"as":["s","v"]}],"mark":{"type":"line","strokeWidth":1.1},
  "encoding":{
   "x":{"field":"x","type":"quantitative","scale":{"domain":[0,200],"nice":false},"axis":{"values":[0,40,80,120,160,200],"tickCount":20,"format":"d","title":"Time (ns)"}},
   "y":{"field":"v","type":"quantitative","scale":{"domain":[200,450],"nice":false,"zero":false},"axis":{"values":[200,250,300,350,400,450],"tickCount":20,"format":"d","title":"MolSA (Å)"}},
   "color":{"field":"s","type":"nominal","scale":{"domain":["k","l","t","c","p"],"range":["#000000","#ff0000","#00ff00","#0000ff","#ff00ff"]},
    "legend":{"title":null,"orient":"none","legendX":137,"legendY":-21,"labelExpr":"datum.label=='k'?'Taltirelin':datum.label=='l'?'Levothyroxine':datum.label=='t'?'Taxifolin':datum.label=='c'?'CurcuminIII':'Lophenol'"}}}},
 {"data":{"values":[{}]},"mark":{"type":"text","fontSize":13,"fontWeight":"bold"},
  "encoding":{"x":{"datum":19,"type":"quantitative","scale":{"domain":[0,200],"nice":false}},"y":{"datum":473,"type":"quantitative","scale":{"domain":[200,450],"nice":false,"zero":false}},"text":{"value":"D"}}}
]},
{"width":208,"height":163,"layer":[
 {"data":{"name":"be"},"transform":[{"fold":["k","l","t","c","p"],"as":["s","v"]}],"mark":{"type":"line","strokeWidth":1.1},
  "encoding":{
   "x":{"field":"x","type":"quantitative","scale":{"domain":[0,200],"nice":false},"axis":{"values":[0,40,80,120,160,200],"tickCount":20,"format":"d","title":"Time (ns)"}},
   "y":{"field":"v","type":"quantitative","scale":{"domain":[0,350],"nice":false,"zero":false},"axis":{"values":[100,200,300],"tickCount":20,"format":"d","title":"PSA (Å)"}},
   "color":{"field":"s","type":"nominal","scale":{"domain":["k","l","t","c","p"],"range":["#000000","#ff0000","#00ff00","#0000ff","#ff00ff"]},
    "legend":{"title":null,"orient":"none","legendX":140,"legendY":-21,"labelExpr":"datum.label=='k'?'Taltirelin':datum.label=='l'?'Levothyroxine':datum.label=='t'?'Taxifolin':datum.label=='c'?'CurcuminIII':'Lophenol'"}}}},
 {"data":{"values":[{}]},"mark":{"type":"text","fontSize":13,"fontWeight":"bold"},
  "encoding":{"x":{"datum":16,"type":"quantitative","scale":{"domain":[0,200],"nice":false}},"y":{"datum":380,"type":"quantitative","scale":{"domain":[0,350],"nice":false,"zero":false}},"text":{"value":"E"}}}
]},
{"width":212,"height":163,"layer":[
 {"data":{"name":"bf"},"transform":[{"fold":["k","l","t","c","p"],"as":["s","v"]}],"mark":{"type":"line","strokeWidth":1.1},
  "encoding":{
   "x":{"field":"x","type":"quantitative","scale":{"domain":[0,200],"nice":false},"axis":{"values":[0,40,80,120,160,200],"tickCount":20,"format":"d","title":"Time (ns)"}},
   "y":{"field":"v","type":"quantitative","scale":{"domain":[0,750],"nice":false,"zero":false},"axis":{"values":[0,150,300,450,600,750],"tickCount":20,"format":"d","title":"SASA (Å)"}},
   "color":{"field":"s","type":"nominal","scale":{"domain":["k","l","t","c","p"],"range":["#000000","#ff0000","#00ff00","#0000ff","#ff00ff"]},
    "legend":{"title":null,"orient":"none","legendX":146,"legendY":-16,"labelExpr":"datum.label=='k'?'Taltirelin':datum.label=='l'?'Levothyroxine':datum.label=='t'?'Taxifolin':datum.label=='c'?'CurcuminIII':'Lophenol'"}}}},
 {"data":{"values":[{}]},"mark":{"type":"text","fontSize":13,"fontWeight":"bold"},
  "encoding":{"x":{"datum":18,"type":"quantitative","scale":{"domain":[0,200],"nice":false}},"y":{"datum":801,"type":"quantitative","scale":{"domain":[0,750],"nice":false,"zero":false}},"text":{"value":"F"}}}
]}
]
}
]
}
